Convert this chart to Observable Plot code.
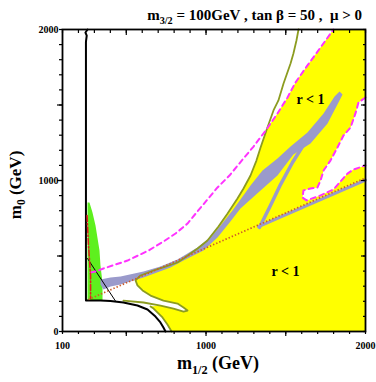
<!DOCTYPE html>
<html><head><meta charset="utf-8">
<script src="https://cdn.jsdelivr.net/npm/d3@7"></script>
<script src="https://cdn.jsdelivr.net/npm/@observablehq/plot@0.6"></script>
<style>
body{margin:0;background:#fff}
#chart{position:relative;width:376px;height:382px}
</style>
</head><body><div id="chart"></div>
<script>
// ---- data (m_1/2 [GeV], m_0 [GeV]) ----
const xTickLabels = [100, 1000, 2000];
const yTickLabels = [0, 1000, 2000];
const minorTicks = [100,200,300,400,500,600,700,800,900,1000,1100,1200,1300,1400,1500,1600,1700,1800,1900,2000];
const minorTicksY = [0,100,200,300,400,500,600,700,800,900,1000,1100,1200,1300,1400,1500,1600,1700,1800,1900,2000];
const majorTicks = [500, 1000, 1500];

// yellow region (r < 1)
const yellowRegion = [
 [1799,2000],[2000,2000],[2000,1550],[1956,1517],[1937,1444],[1906,1351],[1862,1298],[1824,1219],
 [1780,1132],[1737,1066],[1718,1000],[1699,954],[1655,947],[1611,934],[1605,887],[1630,868],
 [1718,901],[1799,940],[1843,993],[1887,1046],[1925,1073],[1981,1093],[2000,1099],[2000,0],
 [784,0],[758,46],[727,93],[671,152],[652,166],[715,172],[796,152],[859,132],[884,139],
 [859,159],[821,185],[733,205],[652,238],[602,272],[570,305],[558,338],[589,371],[671,404],
 [746,430],[821,457],[859,483],[947,550],[1009,603],[1078,695],[1135,781],[1197,881],
 [1235,947],[1279,1033],[1316,1132],[1342,1218],[1379,1338],[1448,1444],[1511,1550],
 [1561,1649],[1636,1762],[1718,1881],[1799,2000]
];

// green region
const greenRegion = [
 [257,854],[269,854],[288,788],[307,702],[319,622],[332,536],[338,437],[351,324],[351,205],[257,205]
];

// lilac band (main)
const lilacBand = [
 [338,344],[401,358],[464,364],[608,397],[714,430],[821,477],[946,556],[1028,622],[1091,702],
 [1166,801],[1216,874],[1279,967],[1354,1066],[1448,1146],[1530,1225],[1636,1318],[1737,1444],
 [1806,1556],[1837,1589],[1856,1570],[1837,1530],[1762,1377],[1655,1245],[1548,1172],[1448,1033],
 [1342,934],[1216,815],[1153,728],[1072,622],[984,536],[859,470],[777,424],[608,358],[464,311],
 [401,298],[357,278],[338,311]
];
// lilac thin branch and thin strip along the dotted line
const lilacBranch = [[1335,689],[1404,834],[1467,973],[1542,1119],[1605,1225],[1649,1291],[1662,1300]];
const lilacStrip = [[1329,695],[2000,1003]];

// olive contour
const oliveLine = [
 [1580,2000],[1567,1927],[1548,1841],[1530,1775],[1486,1642],[1454,1530],[1423,1464],[1385,1351],
 [1342,1218],[1316,1132],[1279,1033],[1235,947],[1197,881],[1135,781],[1078,695],[1009,603],
 [947,550],[859,483],[821,457],[746,430],[671,404],[589,371],[558,338],[570,305],[602,272],
 [652,238],[733,205],[821,185],[859,159],[884,139],[859,132],[796,152],[715,172],[608,192],[482,205]
];
const oliveLine2 = [[652,166],[671,152],[727,93],[758,46],[784,0]];

// magenta dashed contours
const magentaLeft = [
 [276,391],[307,397],[357,417],[508,470],[639,536],[733,596],[809,649],[884,715],[946,795],
 [1009,874],[1072,954],[1147,1033],[1235,1146],[1298,1225],[1379,1338],[1448,1444],[1511,1550],
 [1561,1649],[1636,1762],[1718,1881],[1799,2000]
];
const magentaRight = [
 [2000,1550],[1956,1517],[1937,1444],[1906,1351],[1862,1298],[1824,1219],[1780,1132],[1737,1066],
 [1718,1000],[1699,954],[1655,947],[1611,934],[1605,887],[1630,868],[1718,901],[1799,940],
 [1843,993],[1887,1046],[1925,1073],[1981,1093],[2000,1099]
];

// orange dotted line
const dottedLine = [[263,212],[2000,1017]];
// red dash-dot line
const redDashDot = [[254,768],[263,570],[276,371],[276,218]];

// black lines
const blackThick = [
 [257,2000],[244,1980],[252,1960],[247,1920],[247,1500],[247,205],[338,205],[401,202],[482,192],
 [570,172],[633,146],[683,99],[714,60],[733,26],[746,0]
];
const blackThin = [[257,483],[432,202]];

const rLabels = [{x:1655, y:1536, t:"r < 1"}, {x:1498, y:397, t:"r < 1"}];

// ---- chart ----
const serif = "'Liberation Serif','Times New Roman',Times,serif";
const X = d => d[0], Y = d => d[1];
const blank = () => "";

const chart = Plot.plot({
  width: 376, height: 382,
  marginLeft: 62, marginRight: 11, marginTop: 29, marginBottom: 51,
  x: {domain: [100, 2000], axis: null},
  y: {domain: [0, 2000], axis: null},
  style: {fontFamily: serif, background: "white", color: "black"},
  marks: [
    Plot.line(yellowRegion, {x: X, y: Y, fill: "#ffff00", stroke: "none"}),
    Plot.line(greenRegion, {x: X, y: Y, fill: "#5ef01e", stroke: "none"}),
    Plot.line(lilacBand, {x: X, y: Y, fill: "#9a9acb", stroke: "none"}),
    Plot.line(lilacBranch, {x: X, y: Y, stroke: "#9a9acb", strokeWidth: 3.5}),
    Plot.line(lilacStrip, {x: X, y: Y, stroke: "#9a9acb", strokeWidth: 3}),
    Plot.line(oliveLine, {x: X, y: Y, stroke: "#8c9c20", strokeWidth: 1.8}),
    Plot.line(oliveLine2, {x: X, y: Y, stroke: "#8c9c20", strokeWidth: 1.8}),
    Plot.line(blackThick, {x: X, y: Y, stroke: "black", strokeWidth: 2}),
    Plot.line(blackThin, {x: X, y: Y, stroke: "black", strokeWidth: 1}),
    Plot.line(magentaLeft, {x: X, y: Y, stroke: "#ff33ff", strokeWidth: 2, strokeDasharray: "5,4"}),
    Plot.line(magentaRight, {x: X, y: Y, stroke: "#ff33ff", strokeWidth: 2, strokeDasharray: "5,4"}),
    Plot.line(redDashDot, {x: X, y: Y, stroke: "#e02020", strokeWidth: 1.6, strokeDasharray: "6,2,1.5,2"}),
    Plot.line(dottedLine, {x: X, y: Y, stroke: "#cc5a28", strokeWidth: 1.7, strokeDasharray: "1.4,2", strokeLinecap: "butt"}),
    Plot.text(rLabels, {x: "x", y: "y", text: "t", fontSize: 14, fontWeight: "bold", fontFamily: serif, fill: "black"}),
    Plot.frame({stroke: "black", strokeWidth: 1.8}),
    // bottom / left: outward ticks
    Plot.axisX({anchor: "bottom", ticks: minorTicks, tickSize: 3, tickFormat: blank, label: null, strokeWidth: 1.2}),
    Plot.axisX({anchor: "bottom", ticks: majorTicks, tickSize: 5, tickFormat: blank, label: null, strokeWidth: 1.2}),
    Plot.axisY({anchor: "left", ticks: minorTicksY, tickSize: 3, tickFormat: blank, label: null, strokeWidth: 1.2}),
    Plot.axisY({anchor: "left", ticks: majorTicks, tickSize: 5, tickFormat: blank, label: null, strokeWidth: 1.2}),
    // top / right: inward ticks
    Plot.axisX({anchor: "top", ticks: minorTicks, tickSize: -3, tickFormat: blank, label: null, strokeWidth: 1.2}),
    Plot.axisX({anchor: "top", ticks: majorTicks, tickSize: -5, tickFormat: blank, label: null, strokeWidth: 1.2}),
    Plot.axisY({anchor: "right", ticks: minorTicksY, tickSize: -3, tickFormat: blank, label: null, strokeWidth: 1.2}),
    Plot.axisY({anchor: "right", ticks: majorTicks, tickSize: -5, tickFormat: blank, label: null, strokeWidth: 1.2}),
    // tick labels
    Plot.axisX({anchor: "bottom", ticks: xTickLabels, tickSize: 0, tickPadding: 10, tickFormat: d => String(d), label: null, fontSize: 10, fontWeight: "bold", fontFamily: serif}),
    Plot.axisY({anchor: "left", ticks: yTickLabels, tickSize: 0, tickPadding: 4, tickFormat: d => String(d), label: null, fontSize: 10, fontWeight: "bold", fontFamily: serif})
  ]
});
document.getElementById("chart").appendChild(chart);

// titles with subscripts
const svg = d3.select(chart);
function label(x, y, rot, size, base, sub, rest, anchor) {
  const t = svg.append("text")
    .attr("transform", `translate(${x},${y}) rotate(${rot})`)
    .attr("text-anchor", anchor)
    .attr("font-family", serif).attr("font-weight", "bold")
    .attr("font-size", size).attr("fill", "black")
    .style("white-space", "pre");
  t.append("tspan").text(base);
  t.append("tspan").attr("font-size", size * 0.68).attr("dy", size * 0.25).text(sub);
  t.append("tspan").attr("dy", -size * 0.25).text(rest);
}
label(362, 20, 0, 15, "m", "3/2", " = 100GeV , tan \u03b2 = 50 ,  \u03bc > 0", "end");
label(218, 369, 0, 18, "m", "1/2", " (GeV)", "middle");
label(21, 185, -90, 17, "m", "0", " (GeV)", "middle");
</script>
</body></html>
